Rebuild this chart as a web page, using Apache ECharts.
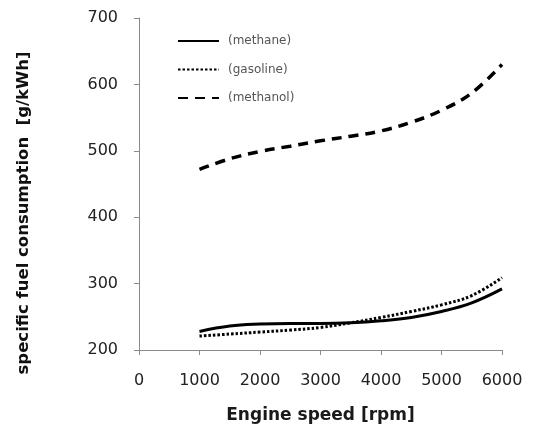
<!DOCTYPE html>
<html>
<head>
<meta charset="utf-8">
<script src="https://cdn.jsdelivr.net/npm/echarts@6/dist/echarts.min.js"></script>
<style>html,body{margin:0;padding:0;background:#fff}#c{width:534px;height:429px}</style>
</head>
<body>
<div id="c"></div>
<script>
var rpm = [1000, 1500, 2000, 2500, 3000, 3500, 4000, 4500, 5000, 5500, 6000];
var methane = [228, 236, 239, 240, 240, 241, 244, 249, 258, 271, 292];
var gasoline = [221, 224, 227, 230, 234, 241, 249, 258, 268, 282, 309];
var methanol = [472, 488, 499, 507, 515, 522, 530, 543, 561, 587, 630];
var seriesNames = ['(methane)', '(gasoline)', '(methanol)'];
var xTitle = 'Engine speed [rpm]';
var yTitle = 'specific fuel consumption  [g/kWh]';

function pairs(ys) { return rpm.map(function (x, i) { return [x, ys[i]]; }); }

var font = '"DejaVu Sans", sans-serif';
var chart = echarts.init(document.getElementById('c'), null, { renderer: 'canvas' });
chart.setOption({
  animation: false,
  backgroundColor: '#fff',
  grid: { left: 139, right: 32, top: 18, bottom: 79, containLabel: false },
  legend: {
    left: 177, top: 35, orient: 'vertical', padding: 0,
    itemWidth: 41, itemHeight: 14, itemGap: 16.5,
    data: seriesNames,
    itemStyle: { opacity: 0 },
    textStyle: { fontFamily: font, fontSize: 12, color: '#555', padding: [0, 0, 0, 4] }
  },
  xAxis: {
    type: 'value', min: 0, max: 6000, interval: 1000,
    name: xTitle, nameLocation: 'middle', nameGap: 57,
    nameTextStyle: { fontFamily: font, fontSize: 17, fontWeight: 'bold', color: '#1a1a1a' },
    axisLine: { lineStyle: { color: '#8a8a8a', width: 1 } },
    axisTick: { show: true, length: 5, lineStyle: { color: '#8a8a8a' } },
    axisLabel: { fontFamily: font, fontSize: 16, color: '#222', margin: 23, formatter: function (v) { return String(v); } },
    splitLine: { show: false }
  },
  yAxis: {
    type: 'value', min: 200, max: 700, interval: 100,
    axisLine: { show: true, lineStyle: { color: '#8a8a8a', width: 1 } },
    axisTick: { show: true, length: 5, lineStyle: { color: '#8a8a8a' } },
    axisLabel: { fontFamily: font, fontSize: 16, color: '#222', margin: 21, formatter: function (v) { return String(v); } },
    splitLine: { show: false }
  },
  graphic: [{
    type: 'text', x: 24, y: 213, rotation: Math.PI / 2,
    style: { text: yTitle, font: 'bold 16.5px ' + font, fill: '#111', align: 'center', verticalAlign: 'middle' }
  }],
  series: [
    { name: seriesNames[0], type: 'line', data: pairs(methane), smooth: 0.4, symbol: 'none',
      lineStyle: { color: '#000', width: 3, type: 'solid' }, itemStyle: { color: '#000' } },
    { name: seriesNames[1], type: 'line', data: pairs(gasoline), smooth: 0.4, symbol: 'none',
      lineStyle: { color: '#000', width: 3, type: [2.5, 2] }, itemStyle: { color: '#000' } },
    { name: seriesNames[2], type: 'line', data: pairs(methanol), smooth: 0.4, symbol: 'none',
      lineStyle: { color: '#000', width: 3.5, type: [10, 7] }, itemStyle: { color: '#000' } }
  ]
});
</script>
</body>
</html>
